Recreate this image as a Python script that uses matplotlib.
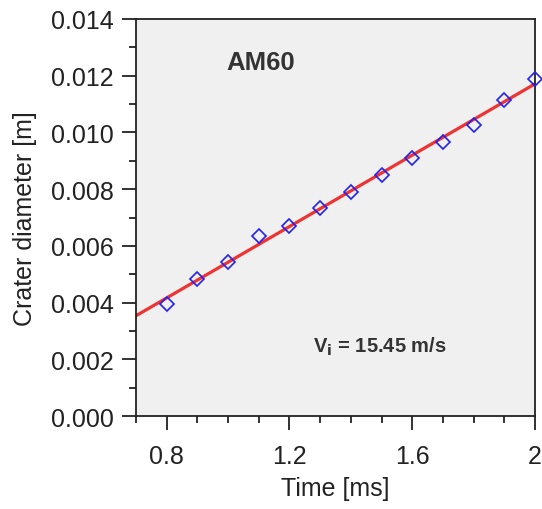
import numpy as np
import matplotlib
matplotlib.use("Agg")
import matplotlib.pyplot as plt
from matplotlib.ticker import MultipleLocator, FormatStrFormatter

# measured crater diameter vs time
time_ms = [0.8, 0.9, 1.0, 1.1, 1.2, 1.3, 1.4, 1.5, 1.6, 1.7, 1.8, 1.9, 2.0]
diam_m = [0.00395, 0.00485, 0.00542, 0.00634, 0.00671, 0.00732, 0.00791,
          0.00851, 0.00909, 0.00967, 0.01026, 0.01114, 0.01188]
# linear fit line ends
fit_x = [0.7, 2.0]
fit_y = [0.00354, 0.01171]

plt.rcParams['font.family'] = ['Liberation Sans', 'DejaVu Sans']

fig = plt.figure(figsize=(5.42, 5.10), dpi=100)
ax = fig.add_axes([0.251, 0.182, 0.736, 0.779])
ax.set_facecolor("#f0f0f0")

ax.plot(fit_x, fit_y, color="#ee3333", lw=2.3, zorder=2)
ax.plot(time_ms, diam_m, ls="none", marker="D", ms=7, mfc="none",
        mec="#2222ee", mew=1.2, zorder=3, clip_on=False)

ax.set_xlim(0.7, 2.0)
ax.set_ylim(0, 0.014)
ax.xaxis.set_major_locator(MultipleLocator(0.4))
ax.xaxis.set_minor_locator(MultipleLocator(0.1))
ax.yaxis.set_major_locator(MultipleLocator(0.002))
ax.yaxis.set_minor_locator(MultipleLocator(0.001))
ax.yaxis.set_major_formatter(FormatStrFormatter("%.3f"))
ax.set_xticks([0.8, 1.2, 1.6, 2.0])
ax.set_xticklabels(["0.8", "1.2", "1.6", "2"])

ax.tick_params(which="both", direction="out", width=1.3, labelsize=18,
               colors="#222222")
ax.tick_params(axis="x", which="major", pad=10)
ax.tick_params(axis="y", which="major", pad=6)
ax.tick_params(which="major", length=10)
ax.tick_params(which="minor", length=5)
for s in ax.spines.values():
    s.set_linewidth(1.3)
    s.set_color("#222222")

ax.set_xlabel("Time [ms]", fontsize=18, color="#222222", labelpad=6)
ax.set_ylabel("Crater diameter [m]", fontsize=18, color="#222222", labelpad=10)

ax.text(1.107, 0.01248, "AM60", fontsize=18.5, fontweight="bold",
        color="#333333", ha="center", va="center")
ax.text(1.277, 0.00247, r"V$_\mathbf{i}$ = 15.45 m/s", fontsize=14.5,
        fontweight="bold", color="#333333", ha="left", va="center")

fig.savefig("out.png", dpi=100)
